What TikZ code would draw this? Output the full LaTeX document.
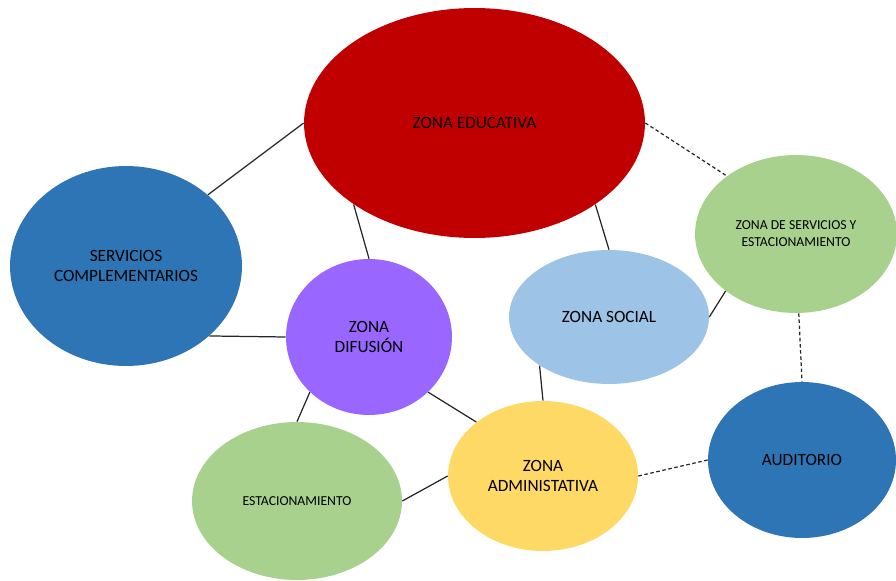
\documentclass[tikz,border=0pt]{standalone}
\usepackage{fontspec}
\setmainfont{Carlito}
\usetikzlibrary{shapes.geometric}
\definecolor{zred}{HTML}{C00000}
\definecolor{zblue}{HTML}{2E75B6}
\definecolor{zgreen}{HTML}{A9D18E}
\definecolor{zpurple}{HTML}{9966FF}
\definecolor{zsky}{HTML}{9DC3E6}
\definecolor{zyellow}{HTML}{FFD966}
\begin{document}
\begin{tikzpicture}[x=0.02cm,y=-0.02cm,
  zone/.style={ellipse,inner sep=0pt,align=center,font=\fontsize{9.8}{11.5}\selectfont},
  smalltext/.style={font=\fontsize{7.8}{9.6}\selectfont},
  link/.style={draw=black!85,line width=0.7pt},
  dashlink/.style={link,dash pattern=on 2pt off 1.5pt}]
\useasboundingbox (0,0) rectangle (896,581);
% zonas
\node[zone,fill=zred,minimum width=6.82cm,minimum height=4.6cm] (edu) at (474.5,123) {ZONA EDUCATIVA};
\node[zone,fill=zblue,minimum width=4.64cm,minimum height=4.0cm] (serv) at (126,266) {SERVICIOS\\COMPLEMENTARIOS};
\node[zone,smalltext,fill=zgreen,minimum width=4.04cm,minimum height=3.16cm] (zserv) at (796,234) {ZONA DE SERVICIOS Y\\ESTACIONAMIENTO};
\node[zone,fill=zpurple,minimum width=3.32cm,minimum height=3.12cm] (dif) at (369,337) {ZONA\\DIFUSIÓN};
\node[zone,fill=zsky,minimum width=4.0cm,minimum height=2.68cm] (soc) at (609,317) {ZONA SOCIAL};
\node[zone,smalltext,fill=zgreen,minimum width=4.2cm,minimum height=3.16cm] (est) at (297,501) {ESTACIONAMIENTO};
\node[zone,fill=zyellow,minimum width=3.8cm,minimum height=3.0cm] (adm) at (543,476) {ZONA\\ADMINISTATIVA};
\node[zone,fill=zblue,minimum width=3.76cm,minimum height=3.12cm] (aud) at (802,460) {AUDITORIO};
% enlaces
\draw[link] (edu.180) -- (serv.41.7);
\draw[link] (serv.-40.9) -- (dif.180);
\draw[link] (edu.214.7) -- (dif.90);
\draw[link] (edu.326.3) -- (soc.90);
\draw[dashlink] (edu.0) -- (zserv.140.9);
\draw[link] (zserv.219.1) -- (soc.0);
\draw[dashlink] (zserv.272) -- (aud.90);
\draw[link] (soc.215.4) -- (adm.90);
\draw[link] (dif.317) -- (adm.141.7);
\draw[link] (dif.223.5) -- (est.90);
\draw[link] (est.0) -- (adm.180);
\draw[dashlink] (adm.0) -- (aud.180);
\end{tikzpicture}
\end{document}
